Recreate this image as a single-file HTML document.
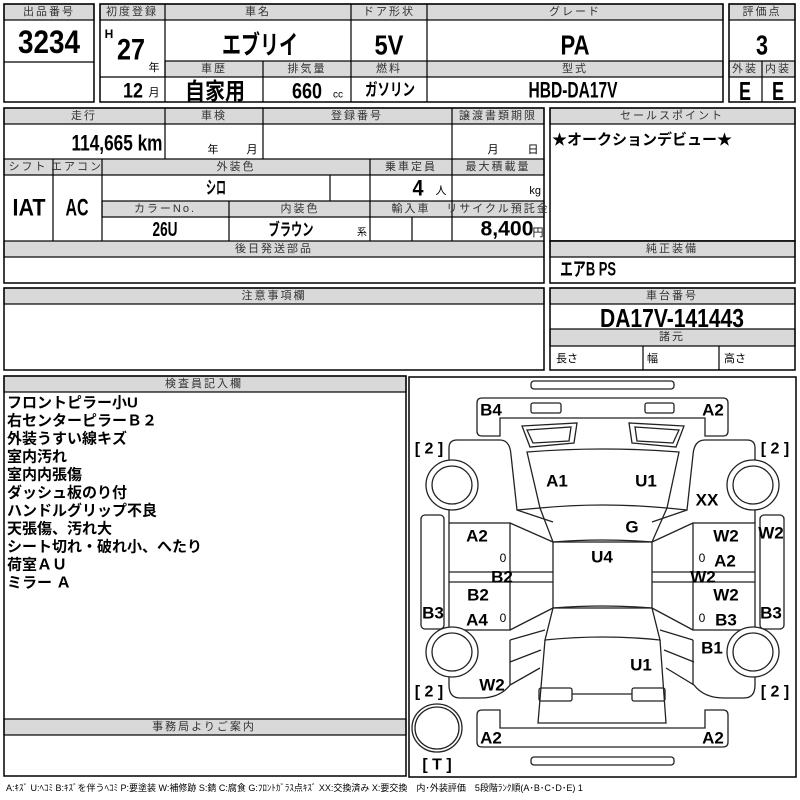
<!DOCTYPE html>
<html><head><meta charset="utf-8"><style>
html,body{margin:0;padding:0;background:#fff;width:800px;height:800px;overflow:hidden}
svg{display:block}
.h{font-family:"Liberation Sans","Noto Sans CJK JP",sans-serif;font-size:11px;fill:#333;text-anchor:middle;dominant-baseline:central;letter-spacing:2px}
.v{font-family:"Liberation Sans","Noto Sans CJK JP",sans-serif;font-weight:bold;fill:#000;text-anchor:middle;dominant-baseline:central}
.j{font-family:"Liberation Sans","Noto Sans CJK JP",sans-serif;fill:#000;dominant-baseline:central}
.l{font-family:"Liberation Sans","Noto Sans CJK JP",sans-serif;font-weight:bold;font-size:17px;fill:#000;text-anchor:middle;dominant-baseline:central}
.g{fill:#d9d9d9;stroke:#000;stroke-width:1.2}
.b{fill:none;stroke:#000;stroke-width:1.5}
.ln{stroke:#000;stroke-width:1.2}
</style></head><body>
<svg width="800" height="800" viewBox="0 0 800 800">
<!-- top block -->
<rect x="4" y="4" width="90" height="16" class="g"/>
<rect x="4" y="4" width="90" height="98" class="b"/>
<line x1="4" y1="62" x2="94" y2="62" class="ln"/>
<rect x="100" y="4" width="623" height="16" class="g"/>
<rect x="165" y="61" width="558" height="16" class="g"/>
<rect x="100" y="4" width="623" height="98" class="b"/>
<line x1="165" y1="4" x2="165" y2="102" class="ln"/>
<line x1="351" y1="4" x2="351" y2="102" class="ln"/>
<line x1="427" y1="4" x2="427" y2="102" class="ln"/>
<line x1="263" y1="61" x2="263" y2="102" class="ln"/>
<line x1="100" y1="77" x2="165" y2="77" class="ln"/>
<rect x="729" y="4" width="66" height="16" class="g"/>
<rect x="729" y="61" width="66" height="16" class="g"/>
<rect x="729" y="4" width="66" height="98" class="b"/>
<line x1="762" y1="61" x2="762" y2="102" class="ln"/>
<text x="49" y="12" class="h">出品番号</text>
<text x="49" y="42" class="v" font-size="32" textLength="62" lengthAdjust="spacingAndGlyphs">3234</text>
<text x="132" y="12" class="h" letter-spacing="0">初度登録</text>
<text x="109" y="34" class="v" font-size="12">H</text>
<text x="131" y="50" class="v" font-size="30" textLength="28" lengthAdjust="spacingAndGlyphs">27</text>
<text x="154" y="68" class="j" font-size="11" style="text-anchor:middle">年</text>
<text x="133" y="91" class="v" font-size="21" textLength="20" lengthAdjust="spacingAndGlyphs">12</text>
<text x="154" y="93" class="j" font-size="11" style="text-anchor:middle">月</text>
<text x="258" y="12" class="h">車名</text>
<text x="260" y="45" class="v" font-size="26" textLength="76" lengthAdjust="spacingAndGlyphs">エブリイ</text>
<text x="389" y="12" class="h" letter-spacing="0">ドア形状</text>
<text x="389" y="45" class="v" font-size="28" textLength="29" lengthAdjust="spacingAndGlyphs">5V</text>
<text x="575" y="12" class="h" letter-spacing="8">グレード</text>
<text x="575" y="45" class="v" font-size="28" textLength="29" lengthAdjust="spacingAndGlyphs">PA</text>
<text x="214" y="69" class="h">車歴</text>
<text x="307" y="69" class="h">排気量</text>
<text x="389" y="69" class="h">燃料</text>
<text x="575" y="69" class="h">型式</text>
<text x="215" y="91" class="v" font-size="23" textLength="60" lengthAdjust="spacingAndGlyphs">自家用</text>
<text x="307" y="91" class="v" font-size="22" textLength="30" lengthAdjust="spacingAndGlyphs">660</text>
<text x="338" y="95" class="j" font-size="10" style="text-anchor:middle">cc</text>
<text x="390" y="90" class="v" font-size="17" textLength="50" lengthAdjust="spacingAndGlyphs">ガソリン</text>
<text x="573" y="90" class="v" font-size="22" textLength="89" lengthAdjust="spacingAndGlyphs">HBD-DA17V</text>
<text x="762" y="12" class="h" letter-spacing="0">評価点</text>
<text x="762" y="45" class="v" font-size="28" textLength="12" lengthAdjust="spacingAndGlyphs">3</text>
<text x="745" y="69" class="h" letter-spacing="0">外装</text>
<text x="778" y="69" class="h" letter-spacing="0">内装</text>
<text x="745" y="91" class="v" font-size="26" textLength="12" lengthAdjust="spacingAndGlyphs">E</text>
<text x="778" y="91" class="v" font-size="26" textLength="12" lengthAdjust="spacingAndGlyphs">E</text>

<!-- second block -->
<rect x="4" y="108" width="540" height="16" class="g"/>
<rect x="4" y="159" width="540" height="16" class="g"/>
<rect x="102" y="201" width="442" height="16" class="g"/>
<rect x="4" y="241" width="540" height="16" class="g"/>
<rect x="4" y="108" width="540" height="175" class="b"/>
<line x1="165" y1="108" x2="165" y2="159" class="ln"/>
<line x1="263" y1="108" x2="263" y2="159" class="ln"/>
<line x1="452" y1="108" x2="452" y2="241" class="ln"/>
<line x1="53" y1="159" x2="53" y2="241" class="ln"/>
<line x1="102" y1="159" x2="102" y2="241" class="ln"/>
<line x1="370" y1="159" x2="370" y2="241" class="ln"/>
<line x1="330" y1="175" x2="330" y2="201" class="ln"/>
<line x1="229" y1="201" x2="229" y2="241" class="ln"/>
<line x1="412" y1="217" x2="412" y2="241" class="ln"/>
<text x="84" y="116" class="h">走行</text>
<text x="214" y="116" class="h">車検</text>
<text x="357" y="116" class="h">登録番号</text>
<text x="498" y="116" class="h" letter-spacing="0">譲渡書類期限</text>
<text x="117" y="143" class="v" font-size="22" textLength="91" lengthAdjust="spacingAndGlyphs">114,665 km</text>
<text x="213" y="150" class="j" font-size="11" style="text-anchor:middle">年</text>
<text x="252" y="150" class="j" font-size="11" style="text-anchor:middle">月</text>
<text x="493" y="150" class="j" font-size="11" style="text-anchor:middle">月</text>
<text x="533" y="150" class="j" font-size="11" style="text-anchor:middle">日</text>
<text x="28" y="167" class="h" letter-spacing="0">シフト</text>
<text x="77" y="167" class="h" letter-spacing="0">エアコン</text>
<text x="236" y="167" class="h">外装色</text>
<text x="411" y="167" class="h" letter-spacing="0">乗車定員</text>
<text x="498" y="167" class="h" letter-spacing="0">最大積載量</text>
<text x="216" y="188" class="v" font-size="18" textLength="20" lengthAdjust="spacingAndGlyphs">シロ</text>
<text x="418" y="188" class="v" font-size="22" textLength="11" lengthAdjust="spacingAndGlyphs">4</text>
<text x="441" y="191" class="j" font-size="11" style="text-anchor:middle">人</text>
<text x="541" y="191" class="j" font-size="11" style="text-anchor:end">kg</text>
<text x="29" y="208" class="v" font-size="24" textLength="33" lengthAdjust="spacingAndGlyphs">IAT</text>
<text x="77" y="208" class="v" font-size="24" textLength="23" lengthAdjust="spacingAndGlyphs">AC</text>
<text x="165" y="209" class="h" letter-spacing="4">カラーNo.</text>
<text x="300" y="209" class="h">内装色</text>
<text x="411" y="209" class="h">輸入車</text>
<text x="498" y="209" class="h" letter-spacing="0">リサイクル預託金</text>
<text x="165" y="230" class="v" font-size="20" textLength="25" lengthAdjust="spacingAndGlyphs">26U</text>
<text x="291" y="230" class="v" font-size="17" textLength="45" lengthAdjust="spacingAndGlyphs">ブラウン</text>
<text x="362" y="233" class="j" font-size="10" style="text-anchor:middle">系</text>
<text x="507" y="229" class="v" font-size="21" textLength="53" lengthAdjust="spacingAndGlyphs">8,400</text>
<text x="538" y="233" class="j" font-size="11" style="text-anchor:middle">円</text>
<text x="274" y="249" class="h" letter-spacing="5">後日発送部品</text>

<rect x="550" y="108" width="245" height="16" class="g"/>
<rect x="550" y="108" width="245" height="133" class="b"/>
<text x="672" y="116" class="h" letter-spacing="6">セールスポイント</text>
<text x="552" y="140" class="j" font-size="15" font-weight="bold">★オークションデビュー★</text>
<rect x="550" y="241" width="245" height="16" class="g"/>
<rect x="550" y="241" width="245" height="42" class="b"/>
<text x="672" y="249" class="h" letter-spacing="5">純正装備</text>
<text x="588" y="270" class="v" font-size="19" textLength="56" lengthAdjust="spacingAndGlyphs">エアB PS</text>

<!-- third -->
<rect x="4" y="288" width="540" height="16" class="g"/>
<rect x="4" y="288" width="540" height="82" class="b"/>
<text x="274" y="296" class="h" letter-spacing="5">注意事項欄</text>
<rect x="550" y="288" width="245" height="16" class="g"/>
<rect x="550" y="329" width="245" height="17" class="g"/>
<rect x="550" y="288" width="245" height="82" class="b"/>
<line x1="643" y1="346" x2="643" y2="370" class="ln"/>
<line x1="719" y1="346" x2="719" y2="370" class="ln"/>
<text x="672" y="296" class="h" letter-spacing="5">車台番号</text>
<text x="672" y="318" class="v" font-size="26" textLength="144" lengthAdjust="spacingAndGlyphs">DA17V-141443</text>
<text x="672" y="337" class="h" letter-spacing="5">諸元</text>
<text x="556" y="359" class="j" font-size="11">長さ</text>
<text x="647" y="359" class="j" font-size="11">幅</text>
<text x="724" y="359" class="j" font-size="11">高さ</text>

<!-- inspector -->
<rect x="4" y="376" width="402" height="16" class="g"/>
<rect x="4" y="719" width="402" height="16" class="g"/>
<rect x="4" y="376" width="402" height="400" class="b"/>
<text x="204" y="384" class="h" letter-spacing="5">検査員記入欄</text>
<text x="204" y="727" class="h" letter-spacing="9">事務局よりご案内</text>
<g class="j" font-size="15" font-weight="bold">
<text x="7" y="403">フロントピラー小U</text>
<text x="7" y="421">右センターピラーＢ２</text>
<text x="7" y="439">外装うすい線キズ</text>
<text x="7" y="457">室内汚れ</text>
<text x="7" y="475">室内内張傷</text>
<text x="7" y="493">ダッシュ板のり付</text>
<text x="7" y="511">ハンドルグリップ不良</text>
<text x="7" y="529">天張傷、汚れ大</text>
<text x="7" y="547">シート切れ・破れ小、へたり</text>
<text x="7" y="565">荷室ＡＵ</text>
<text x="7" y="583">ミラー Ａ</text>
</g>
<text x="6" y="788" class="j" font-size="9" fill="#333">A:ｷｽﾞ U:ﾍｺﾐ B:ｷｽﾞを伴うﾍｺﾐ P:要塗装 W:補修跡 S:錆 C:腐食 G:ﾌﾛﾝﾄｶﾞﾗｽ点ｷｽﾞ XX:交換済み X:要交換　内･外装評価　5段階ﾗﾝｸ順(A･B･C･D･E) 1</text>

<!-- diagram -->
<rect x="409" y="377" width="387" height="400" class="b"/>
<g fill="none" stroke="#222" stroke-width="1.3">
<rect x="531" y="381" width="143" height="8" rx="3"/>
<path d="M482,398 H723 Q728,398 728,403 V431 Q728,436 723,436 H705 V418 H500 V436 H482 Q477,436 477,431 V403 Q477,398 482,398 Z"/>
<rect x="531" y="403" width="30" height="10" rx="2"/>
<rect x="645" y="403" width="29" height="10" rx="2"/>
<path d="M522,426 L577,423 L574,443 L530,447 Z"/>
<path d="M527,430 L571,427 L569,441 L533,443 Z"/>
<path d="M684,426 L629,423 L632,443 L676,447 Z"/>
<path d="M679,430 L635,427 L637,441 L673,443 Z"/>
<path d="M527,452 Q603,446 679,452 L667,508 Q603,502 540,508 Z"/>
<path d="M540,508 L553,542 Q603,538 652,542 L667,508"/>
<rect x="553" y="542" width="99" height="66"/>
<path d="M553,608 Q603,604 652,608 L660,640 Q603,634 545,640 Z"/>
<path d="M545,640 L538,723 H666 L660,640"/>
<rect x="539" y="688" width="33" height="13" rx="2"/>
<rect x="632" y="688" width="33" height="13" rx="2"/>
<line x1="572" y1="694" x2="632" y2="694"/>
<path d="M482,710 H500 V728 H705 V710 H723 Q728,710 728,715 V742 Q728,747 723,747 H482 Q477,747 477,742 V715 Q477,710 482,710 Z"/>
<rect x="531" y="757" width="143" height="8" rx="3"/>
<path d="M449,463 V448 Q449,440 457,440 H500 Q510,440 511,455 L517,510 L553,522"/>
<path d="M449,507 V523"/>
<path d="M517,510 L540,508"/>
<path d="M755,463 V448 Q755,440 747,440 H705 Q694,440 693,455 L687,510 L652,522"/>
<path d="M755,507 V523"/>
<path d="M687,510 L667,508"/>
<rect x="449" y="523" width="61" height="107"/>
<line x1="449" y1="572" x2="553" y2="572"/><line x1="449" y1="582" x2="553" y2="582"/>
<line x1="510" y1="523" x2="553" y2="542"/><line x1="510" y1="630" x2="553" y2="608"/>
<rect x="693" y="523" width="62" height="107"/>
<line x1="652" y1="572" x2="755" y2="572"/><line x1="652" y1="582" x2="755" y2="582"/>
<line x1="693" y1="523" x2="652" y2="542"/><line x1="693" y1="630" x2="652" y2="608"/>
<rect x="421" y="515" width="23" height="114" rx="4"/>
<rect x="760" y="515" width="24" height="114" rx="4"/>
<path d="M449,630 V635 M449,676 V685 Q449,698 460,698 H480 Q500,698 510,685 L540,668"/>
<path d="M510,640 L545,630 M510,640 V685"/>
<path d="M755,630 V635 M755,676 V685 Q755,698 744,698 H724 Q704,698 694,685 L666,668"/>
<path d="M693,640 L660,630 M693,640 V685"/>
<path d="M510,662 L541,650 M694,662 L664,650"/>
</g>
<g fill="#fff" stroke="#222" stroke-width="1.3">
<ellipse cx="452" cy="485" rx="26" ry="25"/><ellipse cx="452" cy="485" rx="20" ry="19"/>
<ellipse cx="452" cy="652" rx="26" ry="25"/><ellipse cx="452" cy="652" rx="20" ry="19"/>
<ellipse cx="753" cy="485" rx="26" ry="25"/><ellipse cx="753" cy="485" rx="20" ry="19"/>
<ellipse cx="753" cy="652" rx="26" ry="25"/><ellipse cx="753" cy="652" rx="20" ry="19"/>
<ellipse cx="437" cy="728" rx="25" ry="24"/><ellipse cx="437" cy="728" rx="22" ry="21"/>
</g>
<g class="l">
<text x="491" y="410">B4</text><text x="713" y="410">A2</text>
<text x="557" y="481">A1</text><text x="646" y="481">U1</text>
<text x="707" y="500">XX</text><text x="632" y="527">G</text>
<text x="477" y="536">A2</text><text x="602" y="557">U4</text>
<text x="726" y="536">W2</text><text x="771" y="533">W2</text>
<text x="725" y="561">A2</text>
<text x="502" y="577">B2</text><text x="703" y="577">W2</text>
<text x="478" y="595">B2</text><text x="726" y="595">W2</text>
<text x="433" y="613">B3</text><text x="477" y="620">A4</text>
<text x="726" y="620">B3</text><text x="771" y="613">B3</text>
<text x="712" y="648">B1</text><text x="641" y="665">U1</text>
<text x="492" y="685">W2</text>
<text x="491" y="738">A2</text><text x="713" y="738">A2</text>
</g>
<g class="j" font-size="12" style="text-anchor:middle" fill="#333">
<text x="503" y="558" style="text-anchor:middle">0</text><text x="702" y="558" style="text-anchor:middle">0</text>
<text x="503" y="618" style="text-anchor:middle">0</text><text x="702" y="618" style="text-anchor:middle">0</text>
</g>
<g class="j" font-size="16" font-weight="bold">
<text x="429" y="449" style="text-anchor:middle">[ 2 ]</text><text x="775" y="449" style="text-anchor:middle">[ 2 ]</text>
<text x="429" y="692" style="text-anchor:middle">[ 2 ]</text><text x="775" y="692" style="text-anchor:middle">[ 2 ]</text>
<text x="437" y="765" style="text-anchor:middle">[ T ]</text>
</g>
</svg>
</body></html>
